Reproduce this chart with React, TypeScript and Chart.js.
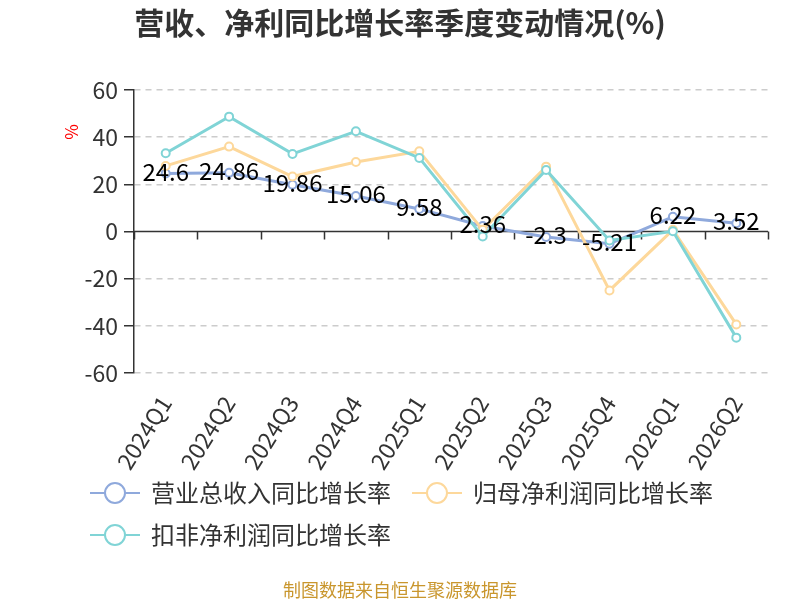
import { useEffect, useRef } from 'react';
import { Chart, registerables } from 'chart.js';

Chart.register(...registerables);

const FONT = '"Noto Sans CJK SC", "Noto Sans", sans-serif';

const quarters = ['2024Q1', '2024Q2', '2024Q3', '2024Q4', '2025Q1', '2025Q2', '2025Q3', '2025Q4', '2026Q1', '2026Q2'];
const revenueGrowth = [24.6, 24.86, 19.86, 15.06, 9.58, 2.36, -2.3, -5.21, 6.22, 3.52];
const netProfitGrowth = [27.8, 36.0, 23.3, 29.5, 34.0, 0.7, 27.5, -25.0, 0.7, -39.4];
const deductedProfitGrowth = [33.2, 48.7, 32.9, 42.5, 31.2, -2.1, 26.1, -3.8, 0.1, -45.0];
const seriesNames = ['营业总收入同比增长率', '归母净利润同比增长率', '扣非净利润同比增长率'];
const seriesColors = ['#8fa9dc', '#fdd89b', '#80d4d6'];

const titleText = '营收、净利同比增长率季度变动情况(%)';
const sourceText = '制图数据来自恒生聚源数据库';

const extras = {
  id: 'extras',
  beforeDatasetsDraw(chart: any) {
    const { ctx, chartArea } = chart;
    const yScale = chart.scales.y;
    const y0 = yScale.getPixelForValue(0);
    const n = quarters.length;
    const step = (chartArea.right - chartArea.left) / n;
    ctx.save();
    ctx.strokeStyle = '#333';
    ctx.lineWidth = 1.5;
    ctx.beginPath();
    ctx.moveTo(chartArea.left, y0);
    ctx.lineTo(chartArea.right, y0);
    for (let i = 0; i <= n; i++) {
      const x = Math.round(chartArea.left + i * step) + 0.5;
      ctx.moveTo(x, y0);
      ctx.lineTo(x, y0 + 8);
    }
    ctx.stroke();
    ctx.restore();
  },
  afterDraw(chart: any) {
    const { ctx } = chart;
    ctx.save();

    // title
    ctx.fillStyle = '#333';
    ctx.font = `bold 30px ${FONT}`;
    ctx.textAlign = 'center';
    ctx.textBaseline = 'middle';
    ctx.fillText(titleText, 400, 23);

    // y unit
    ctx.save();
    ctx.translate(72, 132);
    ctx.rotate(-Math.PI / 2);
    ctx.fillStyle = '#ff0000';
    ctx.font = `17px ${FONT}`;
    ctx.fillText('%', 0, 0);
    ctx.restore();

    // value labels on the revenue line
    const meta = chart.getDatasetMeta(0);
    ctx.fillStyle = '#000';
    ctx.font = `24px ${FONT}`;
    meta.data.forEach((pt: any, i: number) => {
      ctx.fillText(String(revenueGrowth[i]), pt.x, pt.y - 2);
    });

    // legend
    ctx.font = `24px ${FONT}`;
    ctx.textAlign = 'left';
    const drawItem = (x: number, y: number, idx: number) => {
      ctx.strokeStyle = seriesColors[idx];
      ctx.lineWidth = 2;
      ctx.beginPath();
      ctx.moveTo(x, y);
      ctx.lineTo(x + 50, y);
      ctx.stroke();
      ctx.beginPath();
      ctx.arc(x + 25, y, 10, 0, Math.PI * 2);
      ctx.fillStyle = '#fff';
      ctx.fill();
      ctx.stroke();
      ctx.fillStyle = '#333';
      ctx.fillText(seriesNames[idx], x + 61, y);
      return x + 61 + ctx.measureText(seriesNames[idx]).width;
    };
    const end1 = drawItem(90, 493, 0);
    drawItem(end1 + 21, 493, 1);
    drawItem(90, 535, 2);

    // source
    ctx.textAlign = 'center';
    ctx.fillStyle = '#c9962d';
    ctx.font = `18px ${FONT}`;
    ctx.fillText(sourceText, 400, 590);

    ctx.restore();
  },
};

const makeDataset = (idx: number, data: number[], order: number) => ({
  label: seriesNames[idx],
  data,
  borderColor: seriesColors[idx],
  backgroundColor: '#fff',
  pointBackgroundColor: '#fff',
  pointBorderColor: seriesColors[idx],
  pointRadius: 4,
  pointBorderWidth: 2,
  borderWidth: 3,
  tension: 0,
  order,
});

export default function App() {
  const canvasRef = useRef<HTMLCanvasElement>(null);

  useEffect(() => {
    const ctx = canvasRef.current?.getContext('2d');
    if (!ctx) return;
    const chart = new Chart(ctx, {
      type: 'line',
      data: {
        labels: quarters,
        datasets: [
          makeDataset(0, revenueGrowth, 2),
          makeDataset(1, netProfitGrowth, 1),
          makeDataset(2, deductedProfitGrowth, 0),
        ],
      },
      options: {
        animation: false,
        responsive: true,
        maintainAspectRatio: false,
        layout: { padding: { top: 90, right: 32, left: 0, bottom: 0 } },
        plugins: {
          legend: { display: false },
          title: { display: false },
          tooltip: { enabled: false },
        },
        scales: {
          x: {
            offset: true,
            grid: { display: false },
            border: { display: false },
            ticks: {
              color: '#333',
              font: { family: FONT, size: 23 },
              minRotation: 58,
              maxRotation: 58,
              padding: 10,
              autoSkip: false,
            },
            afterFit: (s: any) => {
              s.height = 227;
            },
          },
          y: {
            min: -60,
            max: 60,
            border: { display: true, color: '#333', width: 1.5, dash: [6, 5] },
            grid: {
              color: (c: any) => (c.tick && c.tick.value === 0 ? 'transparent' : '#ccc'),
              lineWidth: 1.5,
              tickColor: '#333',
              tickLength: 10,
              tickBorderDash: [1, 0],
            },
            ticks: {
              stepSize: 20,
              color: '#333',
              padding: 6,
              font: { family: FONT, size: 23 },
            },
            afterFit: (s: any) => {
              s.width = 134;
            },
          },
        },
      },
      plugins: [extras],
    });
    return () => chart.destroy();
  }, []);

  return (
    <div style={{ position: 'absolute', left: 0, top: 0, width: 800, height: 600 }}>
      <canvas ref={canvasRef} />
    </div>
  );
}
